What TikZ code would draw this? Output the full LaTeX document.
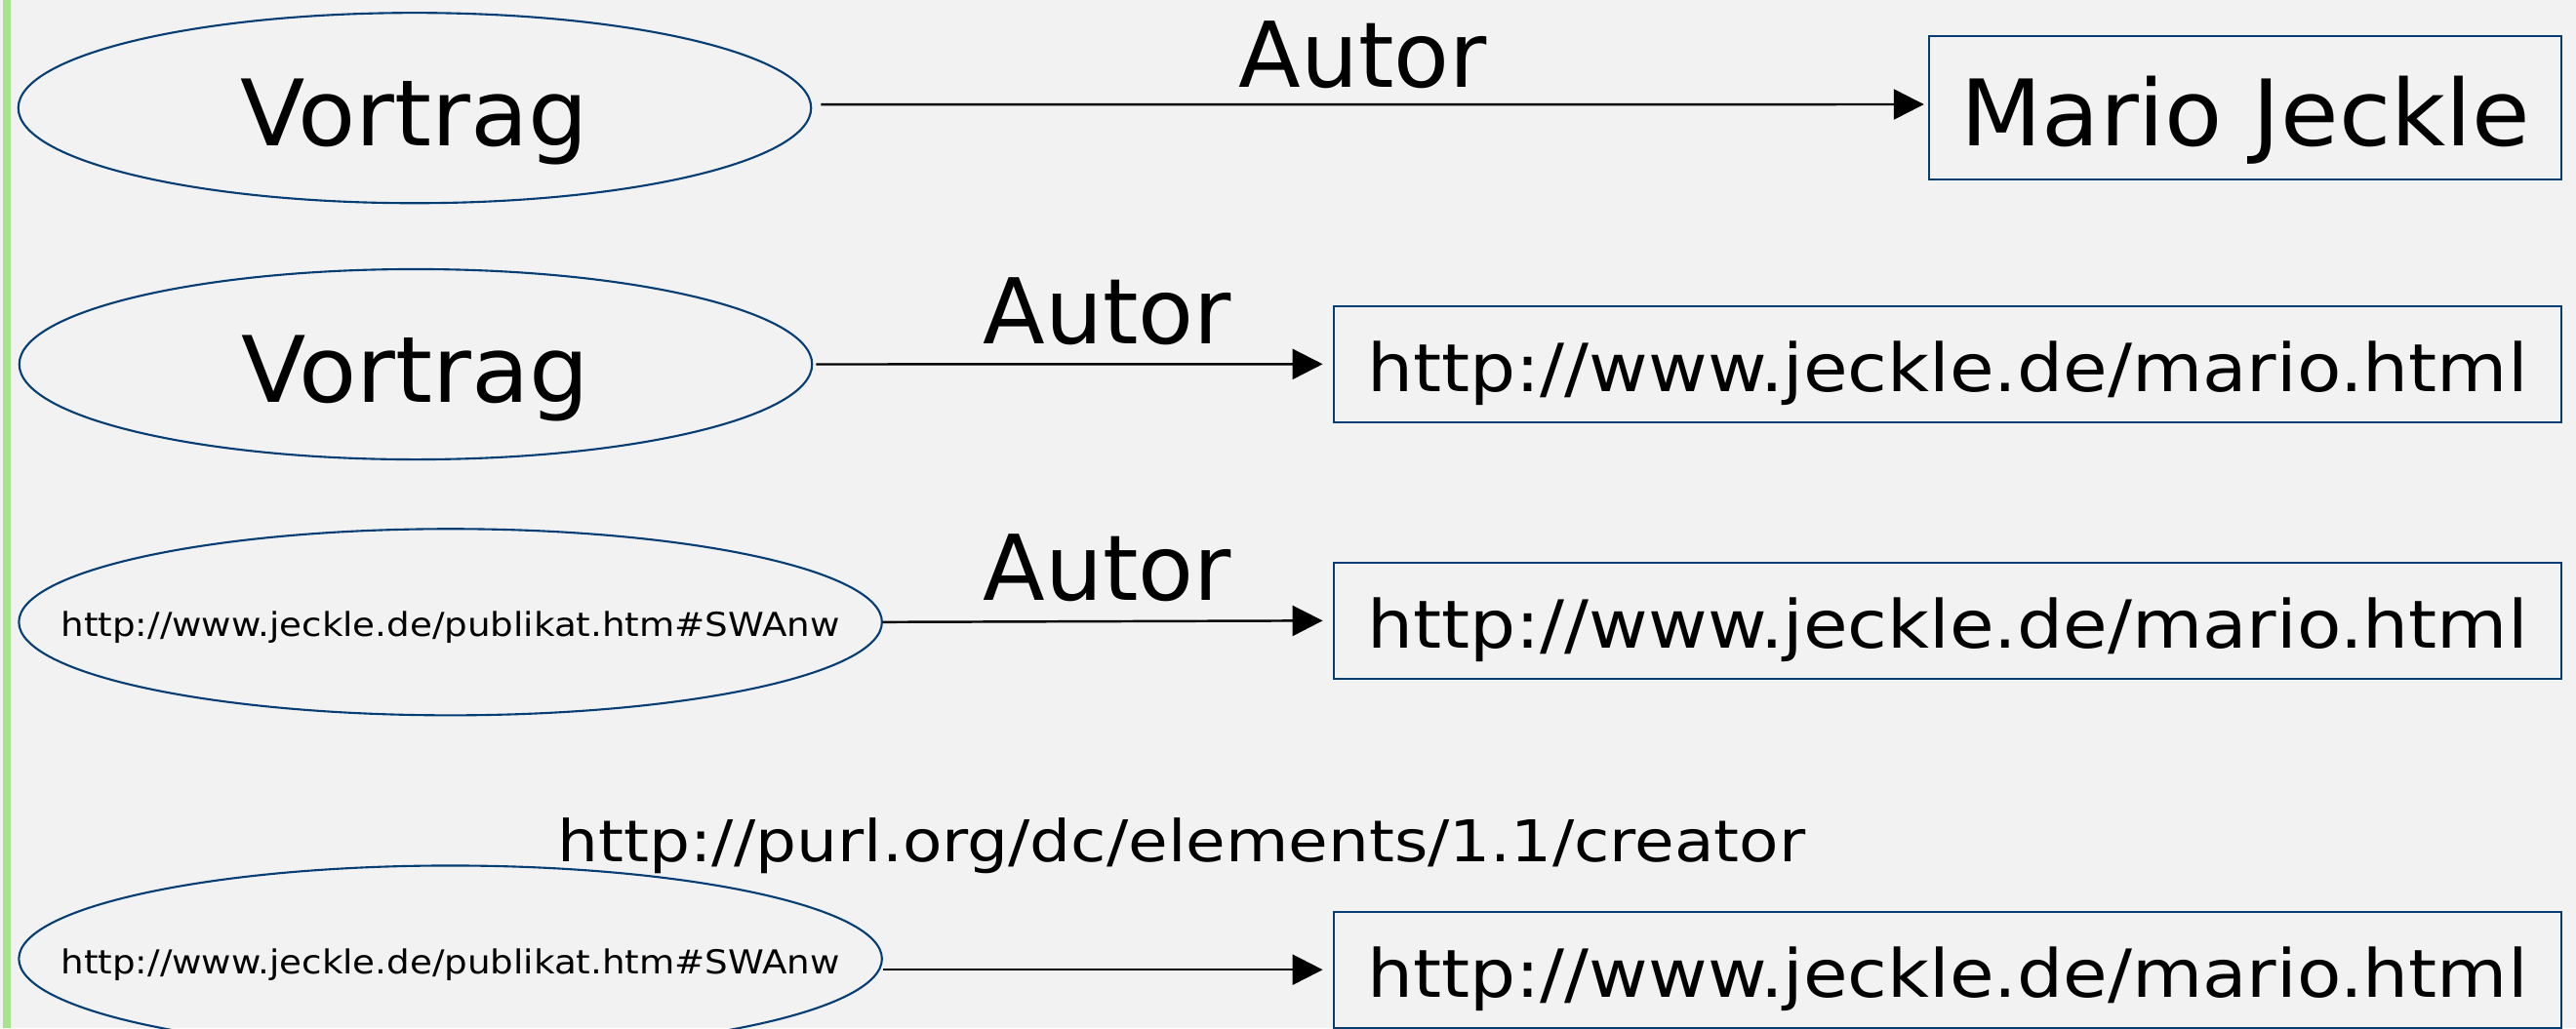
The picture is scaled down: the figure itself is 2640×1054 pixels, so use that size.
\documentclass[tikz,border=0pt]{standalone}
\usepackage{fontspec}
\setmainfont{DejaVu Sans}
\newfontfamily\namefont[FakeStretch=1.03]{DejaVu Sans}
\newfontfamily\urlfont[FakeStretch=1.09]{DejaVu Sans}
\newfontfamily\smallurlfont[FakeStretch=1.10]{DejaVu Sans}
\newfontfamily\purlfont[FakeStretch=1.12]{DejaVu Sans}
\usetikzlibrary{shapes.geometric,arrows.meta}
\definecolor{pagebg}{HTML}{F2F2F2}
\definecolor{navyline}{HTML}{063D73}
\definecolor{sidebar}{HTML}{A8E48C}
% zero-width box, so long texts do not widen their ellipse
\newcommand{\zerow}[1]{\makebox[0pt]{#1}}
\begin{document}
\begin{tikzpicture}[x=0.01cm,y=-0.01cm,
  res/.style={ellipse, draw=navyline, line width=0.6pt, inner sep=0pt, text depth=0pt},
  wideres/.style={res, minimum width=8.84cm, minimum height=1.91cm, text height=0.30cm,
    font=\smallurlfont\fontsize{9.62pt}{12pt}\selectfont},
  shortres/.style={res, minimum width=8.12cm, minimum height=1.95cm, text height=0.77cm},
  lit/.style={rectangle, draw=navyline, line width=0.6pt, inner sep=0pt, text depth=0pt},
  urlbox/.style={lit, minimum width=12.58cm, minimum height=1.19cm, text height=0.57cm,
    font=\urlfont\fontsize{19.35pt}{23pt}\selectfont},
  arr/.style={draw=black, line width=0.7pt, -{Triangle[length=0.31cm,width=0.31cm]}},
  bigtext/.style={font=\namefont\fontsize{26.75pt}{32pt}\selectfont},
  lbl/.style={inner sep=0pt, anchor=base, font=\fontsize{26.46pt}{32pt}\selectfont}
]
% page and side bar
\fill[pagebg] (0,0) rectangle (2640,1054);
\useasboundingbox (0,0) rectangle (2640,1054);
\fill[sidebar] (3,0) rectangle (10.5,1054);

% statement 1
\node[shortres, bigtext] (e1) at (425,110.7) {\zerow{Vortrag}};
\node[lit, bigtext, minimum width=6.48cm, minimum height=1.47cm, text height=0.77cm]
  (b1) at (2301,110.5) {Mario Jeckle};
\draw[arr, shorten <=0.09cm, shorten >=0.04cm]
  ([yshift=0.035cm]e1.east) -- ([yshift=0.035cm]b1.west);
\node[lbl] (l1) at (1397,89) {Autor};

% statement 2
\node[shortres, bigtext] (e2) at (426,373.5) {\zerow{Vortrag}};
\node[urlbox] (b2) at (1996,373.3) {http://www.jeckle.de/mario.html};
\draw[arr, shorten <=0.03cm, shorten >=0.10cm] (e2.east) -- (b2.west);
\node[lbl] (l2) at (1135,352) {Autor};

% statement 3
\node[wideres] (e3) at (461.6,637.8) {\zerow{http://www.jeckle.de/publikat.htm\#SWAnw}};
\node[urlbox] (b3) at (1996,636.3) {http://www.jeckle.de/mario.html};
\draw[arr, shorten >=0.10cm] (e3.east) -- (b3.west);
\node[lbl] (l3) at (1135,615) {Autor};

% statement 4
\node[wideres] (e4) at (461.6,983) {\zerow{http://www.jeckle.de/publikat.htm\#SWAnw}};
\node[urlbox] (b4) at (1996,994.2) {http://www.jeckle.de/mario.html};
\draw[arr, shorten >=0.10cm] (e4.east |- b4.west) -- (b4.west);
\node[lbl, font=\purlfont\fontsize{16.79pt}{20pt}\selectfont] (l4) at (1211,883)
  {http://purl.org/dc/elements/1.1/creator};
\end{tikzpicture}
\end{document}
